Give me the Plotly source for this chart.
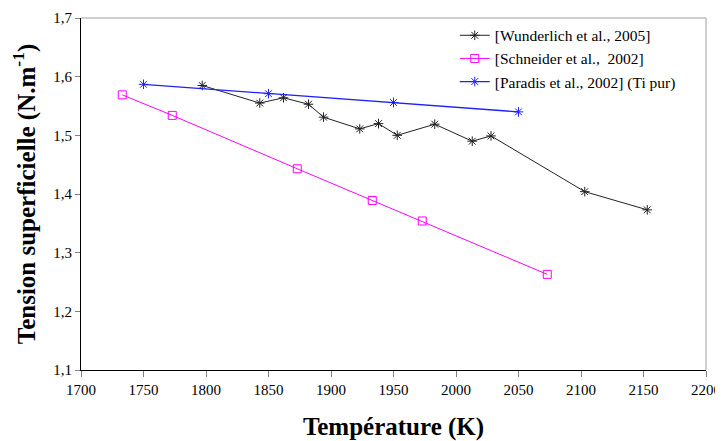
import plotly.graph_objects as go

FONT = "Liberation Serif"

# Wunderlich et al., 2005
WUND_T = [1797, 1843, 1862, 1882, 1894, 1923, 1938, 1953, 1983, 2013, 2028, 2103, 2153]
WUND_S = [1.585, 1.555, 1.564, 1.553, 1.531, 1.511, 1.520, 1.500, 1.519, 1.490, 1.499, 1.404, 1.373]

# Schneider et al., 2002
SCHN_T = [1733, 1773, 1873, 1933, 1973, 2073]
SCHN_S = [1.569, 1.534, 1.443, 1.389, 1.354, 1.263]

# Paradis et al., 2002 (Ti pur)
PARA_T = [1750, 1850, 1950, 2050]
PARA_S = [1.587, 1.571, 1.556, 1.540]

X_TICKS = list(range(1700, 2201, 50))
Y_TICKS = [1.1, 1.2, 1.3, 1.4, 1.5, 1.6, 1.7]

fig = go.Figure()
fig.add_trace(
    go.Scatter(
        x=WUND_T,
        y=WUND_S,
        mode="lines+markers",
        name="[Wunderlich et al., 2005]",
        line={"color": "#222222", "width": 1},
        marker={"symbol": "asterisk-open", "size": 8, "line": {"color": "#000000", "width": 1}},
    )
)
fig.add_trace(
    go.Scatter(
        x=SCHN_T,
        y=SCHN_S,
        mode="lines+markers",
        name="[Schneider et al.,  2002]",
        line={"color": "#ff00ff", "width": 1},
        marker={"symbol": "square-open", "size": 8, "color": "#ff00ff", "line": {"color": "#ff00ff", "width": 1}},
    )
)
fig.add_trace(
    go.Scatter(
        x=PARA_T,
        y=PARA_S,
        mode="lines+markers",
        name="[Paradis et al., 2002] (Ti pur)",
        line={"color": "#2020ff", "width": 1.3},
        marker={"symbol": "asterisk-open", "size": 8, "line": {"color": "#0000ff", "width": 1}},
    )
)

# grey top/right frame like the original
fig.add_shape(type="line", xref="paper", yref="paper", x0=0, x1=1, y0=1, y1=1,
              line={"color": "#a0a0a0", "width": 1})
fig.add_shape(type="line", xref="paper", yref="paper", x0=1, x1=1, y0=0, y1=1,
              line={"color": "#a0a0a0", "width": 1})

fig.update_xaxes(
    range=[1700, 2200],
    tickvals=X_TICKS,
    ticks="outside",
    ticklen=6,
    tickcolor="#808080",
    showline=True,
    linecolor="#000000",
    linewidth=1,
    showgrid=False,
    zeroline=False,
    automargin=False,
    tickfont={"family": FONT, "size": 15, "color": "#000000"},
    title={"text": "<b>Température (K)</b>", "font": {"family": FONT, "size": 25, "color": "#000000"}, "standoff": 21},
)
fig.update_yaxes(
    range=[1.1, 1.7],
    tickvals=Y_TICKS,
    tickformat=".1f",
    ticks="outside",
    ticklen=5,
    tickcolor="#808080",
    showline=True,
    linecolor="#000000",
    linewidth=1,
    showgrid=False,
    zeroline=False,
    automargin=False,
    tickfont={"family": FONT, "size": 15, "color": "#000000"},
    title={"text": "<b>Tension superficielle (N.m<sup>-1</sup>)</b>", "font": {"family": FONT, "size": 25, "color": "#000000"}, "standoff": 12},
)
# the page body has an 8px margin, so the figure is shifted by 8px
fig.update_layout(
    width=715,
    height=433,
    margin={"l": 73, "r": 17, "t": 10, "b": 71},
    separators=", ",
    plot_bgcolor="white",
    paper_bgcolor="white",
    showlegend=True,
    legend={
        "x": 0.598,
        "y": 0.998,
        "xanchor": "left",
        "yanchor": "top",
        "font": {"family": FONT, "size": 15.5, "color": "#000000"},
        "bgcolor": "rgba(0,0,0,0)",
        "itemwidth": 30,
    },
)

fig.write_html("out.html")
